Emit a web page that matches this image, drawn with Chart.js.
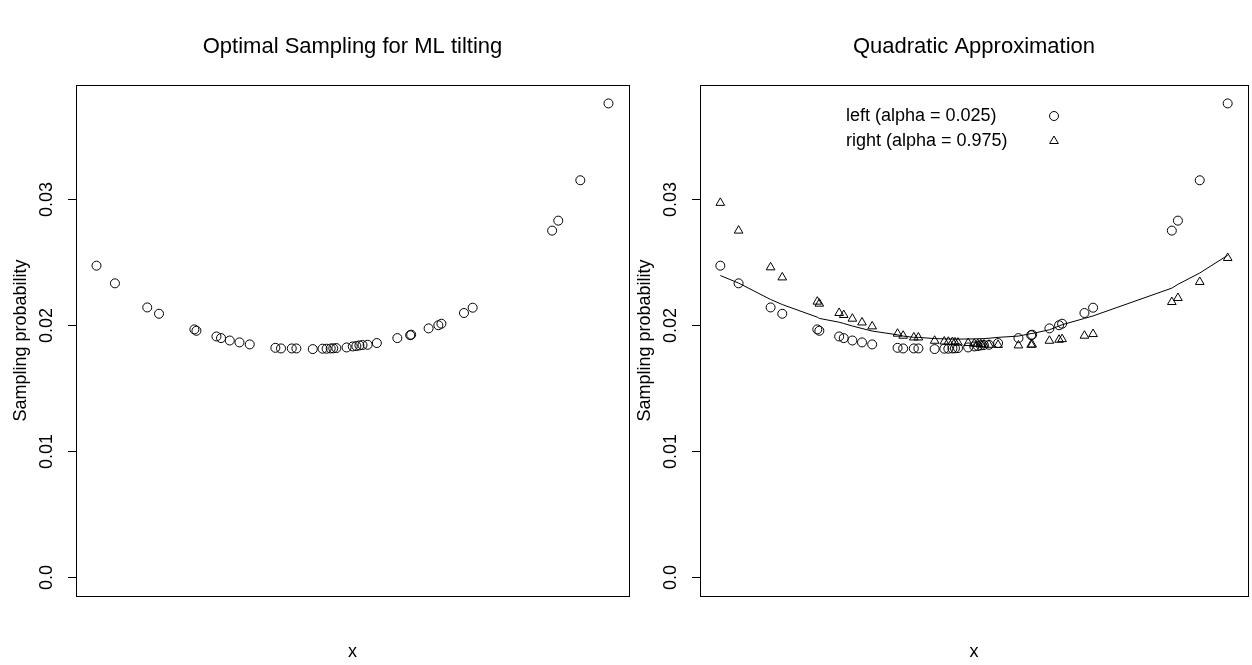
<!DOCTYPE html>
<html>
<head>
<meta charset="utf-8">
<script src="https://cdn.jsdelivr.net/npm/chart.js@4"></script>
<style>
  html, body { margin: 0; padding: 0; background: #fff; overflow: hidden; }
  body { width: 1252px; height: 665px; position: relative; }
  canvas { position: absolute; top: 0; }
  #mlChart { left: 0; }
  #quadChart { left: 626px; }
</style>
</head>
<body>
<canvas id="mlChart" width="640" height="665"></canvas>
<canvas id="quadChart" width="628" height="665"></canvas>
<script>
// sorted x positions (no axis shown in the original, so a 0..1 scale)
const xVals = [0.001, 0.037, 0.100, 0.123, 0.192, 0.196, 0.235, 0.244, 0.261, 0.280,
               0.300, 0.350, 0.361, 0.382, 0.391, 0.423, 0.442, 0.450, 0.458, 0.463,
               0.469, 0.489, 0.501, 0.508, 0.514, 0.520, 0.530, 0.548, 0.588, 0.613,
               0.615, 0.649, 0.668, 0.674, 0.718, 0.735, 0.890, 0.902, 0.945, 1.000];

// sampling probabilities, left tail (alpha = 0.025) - same in both panels
const probLeft = [0.02468, 0.02328, 0.02137, 0.02087, 0.01963, 0.01952, 0.01907, 0.01894, 0.01875, 0.01860,
                  0.01844, 0.01817, 0.01812, 0.01812, 0.01812, 0.01807, 0.01810, 0.01810, 0.01812, 0.01813,
                  0.01815, 0.01820, 0.01828, 0.01831, 0.01836, 0.01839, 0.01841, 0.01855, 0.01894, 0.01917,
                  0.01921, 0.01971, 0.01996, 0.02008, 0.02093, 0.02135, 0.02746, 0.02825, 0.03145, 0.03754];

// right tail (alpha = 0.975)
const probRight = [0.02966, 0.02746, 0.02455, 0.02375, 0.02183, 0.02167, 0.02093, 0.02077, 0.02048, 0.02018,
                   0.01987, 0.01929, 0.01913, 0.01899, 0.01899, 0.01873, 0.01867, 0.01865, 0.01863, 0.01860,
                   0.01858, 0.01855, 0.01850, 0.01848, 0.01845, 0.01843, 0.01841, 0.01840, 0.01836, 0.01841,
                   0.01843, 0.01873, 0.01881, 0.01886, 0.01913, 0.01926, 0.02180, 0.02212, 0.02339, 0.02529];

// quadratic approximation curve
const probQuad = [0.0239, 0.0233, 0.0220, 0.0216, 0.0206, 0.0205, 0.0202, 0.0201, 0.0199, 0.0197,
                  0.0195, 0.0192, 0.0191, 0.0190, 0.0190, 0.0189, 0.01888, 0.01887, 0.01886, 0.01886,
                  0.01886, 0.01887, 0.01888, 0.01889, 0.0189, 0.0189, 0.01893, 0.0190, 0.0191, 0.0193,
                  0.0193, 0.0196, 0.0199, 0.0200, 0.0205, 0.0207, 0.0229, 0.0232, 0.0241, 0.0255];

const yTicks = [0.0, 0.01, 0.02, 0.03];
const yTickLabels = ['0.0', '0.01', '0.02', '0.03'];
const legendLabels = ['left (alpha = 0.025)', 'right (alpha = 0.975)'];

const FONT = "'Liberation Sans', Arial, sans-serif";

function toPoints(ys) {
    return xVals.map((x, i) => ({ x: x, y: ys[i] }));
}

// R-like frame: box, y ticks, rotated labels, title and x label
function rFrame(title) {
    return {
        id: 'rFrame',
        afterDraw(chart) {
            const ctx = chart.ctx;
            const a = chart.chartArea;
            const y = chart.scales.y;
            ctx.save();
            ctx.strokeStyle = '#000';
            ctx.lineWidth = 1;
            ctx.strokeRect(a.left + 0.5, a.top + 0.5, a.right - a.left, a.bottom - a.top);

            ctx.fillStyle = '#000';
            ctx.font = '18px ' + FONT;
            ctx.textAlign = 'center';
            ctx.textBaseline = 'middle';
            yTicks.forEach((v, i) => {
                const py = Math.round(y.getPixelForValue(v)) + 0.5;
                ctx.beginPath();
                ctx.moveTo(a.left - 8, py);
                ctx.lineTo(a.left, py);
                ctx.stroke();
                ctx.save();
                ctx.translate(a.left - 29, py);
                ctx.rotate(-Math.PI / 2);
                ctx.fillText(yTickLabels[i], 0, 0);
                ctx.restore();
            });

            const midY = (a.top + a.bottom) / 2;
            const midX = (a.left + a.right) / 2;
            ctx.save();
            ctx.translate(a.left - 55, midY);
            ctx.rotate(-Math.PI / 2);
            ctx.fillText('Sampling probability', 0, 0);
            ctx.restore();

            ctx.fillText('x', midX, 652);

            ctx.font = '22px ' + FONT;
            ctx.fillText(title, midX, 47);
            ctx.restore();
        }
    };
}

// legend drawn as text + open point symbols, R style
const quadLegend = {
    id: 'quadLegend',
    afterDraw(chart) {
        const ctx = chart.ctx;
        const a = chart.chartArea;
        ctx.save();
        ctx.lineWidth = 1;
        ctx.font = '18px ' + FONT;
        ctx.textAlign = 'left';
        ctx.textBaseline = 'middle';
        const styles = ['circle', 'triangle'];
        legendLabels.forEach((lab, i) => {
            const ty = 116 + i * 25;
            ctx.fillStyle = '#000';
            ctx.fillText(lab, a.left + 146, ty);
            ctx.fillStyle = 'rgba(0,0,0,0)';
            ctx.strokeStyle = '#000';
            Chart.helpers.drawPoint(ctx, { pointStyle: styles[i], radius: i ? 5 : 4.5, borderWidth: 1 }, a.left + 354, ty);
        });
        ctx.restore();
    }
};

function baseOptions(padLeft, padRight) {
    return {
        responsive: false,
        animation: false,
        layout: { padding: { left: padLeft, right: padRight, top: 85, bottom: 69 } },
        plugins: { legend: { display: false }, tooltip: { enabled: false } },
        scales: {
            x: { type: 'linear', display: false, min: -0.039, max: 1.04 },
            y: { type: 'linear', display: false, min: -0.0015, max: 0.039 }
        }
    };
}

const circleStyle = {
    pointStyle: 'circle',
    pointRadius: 4.5,
    pointBackgroundColor: 'transparent',
    pointBorderColor: '#000',
    pointBorderWidth: 1,
    showLine: false
};

new Chart(document.getElementById('mlChart'), {
    type: 'scatter',
    data: {
        datasets: [
            Object.assign({ label: 'ML tilting', data: toPoints(probLeft) }, circleStyle)
        ]
    },
    options: baseOptions(76, 11),
    plugins: [rFrame('Optimal Sampling for ML tilting')]
});

new Chart(document.getElementById('quadChart'), {
    type: 'scatter',
    data: {
        datasets: [
            Object.assign({ label: legendLabels[0], data: toPoints(probLeft) }, circleStyle),
            {
                label: legendLabels[1],
                data: toPoints(probRight),
                pointStyle: 'triangle',
                pointRadius: 5,
                pointBackgroundColor: 'transparent',
                pointBorderColor: '#000',
                pointBorderWidth: 1,
                showLine: false
            },
            {
                label: 'quadratic',
                data: toPoints(probQuad),
                showLine: true,
                borderColor: '#000',
                borderWidth: 1,
                pointRadius: 0,
                tension: 0
            }
        ]
    },
    options: baseOptions(74, 1),
    plugins: [rFrame('Quadratic Approximation'), quadLegend]
});
</script>
</body>
</html>
